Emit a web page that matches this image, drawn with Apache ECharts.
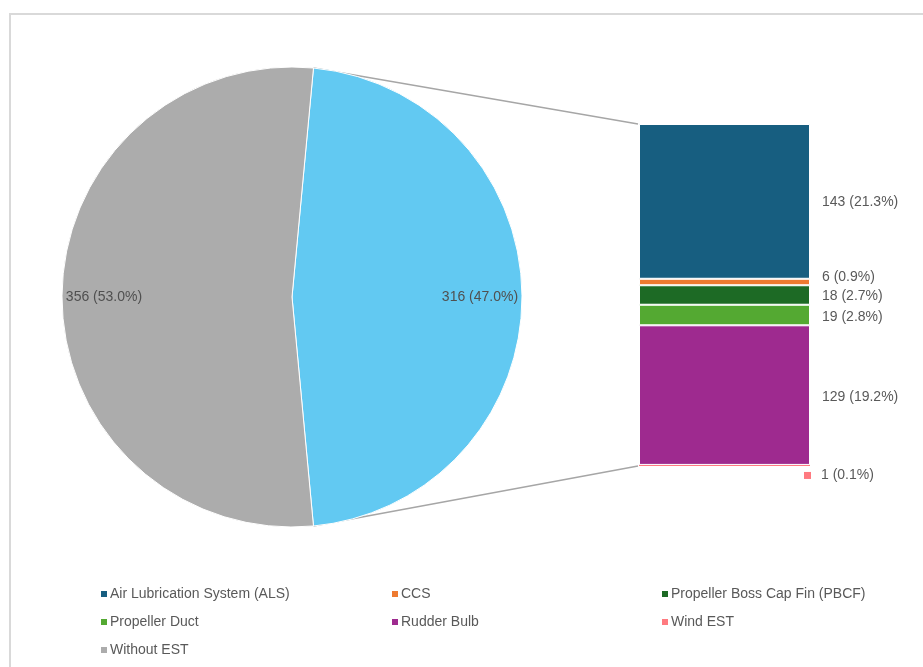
<!DOCTYPE html>
<html>
<head>
<meta charset="utf-8">
<script src="https://cdn.jsdelivr.net/npm/echarts@6/dist/echarts.min.js"></script>
<style>
  html, body { margin: 0; padding: 0; background: #fff; }
  #chart { width: 923px; height: 667px; }
</style>
</head>
<body>
<div id="chart"></div>
<script>
// Ships with / without energy saving technology (EST)
const pieNames = ['With EST', 'Without EST'];
const pieValues = [316, 356];

// Breakdown of the "With EST" slice
const estNames = [
  'Air Lubrication System (ALS)',
  'CCS',
  'Propeller Boss Cap Fin (PBCF)',
  'Propeller Duct',
  'Rudder Bulb',
  'Wind EST'
];
const estValues = [143, 6, 18, 19, 129, 1];

// Legend columns
const legendCol1 = ['Air Lubrication System (ALS)', 'Propeller Duct', 'Without EST'];
const legendCol2 = ['CCS', 'Rudder Bulb'];
const legendCol3 = ['Propeller Boss Cap Fin (PBCF)', 'Wind EST'];

// ---- styling ----
const FONT = "'Liberation Sans', Arial, sans-serif";
const pieColors = { 'With EST': '#62c9f2', 'Without EST': '#acacac' };
const estColors = ['#175e80', '#ee7a30', '#1d6a25', '#54a932', '#9e2a8f', '#ff7a80'];
const estLabelOffsets = [[0, 1], [0, -5], [0, 1], [0, 2], [0, 2], [-18, 10]];

const PIE_CX = 292, PIE_CY = 297, PIE_R = 230;
const GRID = { left: 639, top: 124, width: 171, height: 342 };

const total = pieValues.reduce((a, b) => a + b, 0);
const estTotal = estValues.reduce((a, b) => a + b, 0);
const pct = v => (v / total * 100).toFixed(1) + '%';
const estShare = pieValues[0] / total;
const startAngle = estShare * 360 / 2;

const chart = echarts.init(document.getElementById('chart'), null, { renderer: 'canvas' });

const pieData = pieNames.map((n, i) => ({ name: n, value: pieValues[i], itemStyle: { color: pieColors[n] } }));

const barSeries = estNames.map((n, i) => {
  const isLast = i === estNames.length - 1;
  return {
    type: 'bar',
    name: n,
    stack: 'est',
    barWidth: '100%',
    data: [estValues[i]],
    itemStyle: { color: estColors[i], borderColor: '#ffffff', borderWidth: isLast ? 0 : 1 },
    emphasis: { disabled: true },
    label: {
      show: true,
      position: 'right',
      distance: 12,
      offset: estLabelOffsets[i],
      fontFamily: FONT,
      fontSize: 14,
      color: '#595959',
      formatter: isLast
        ? '{sq|}{t|' + estValues[i] + ' (' + pct(estValues[i]) + ')}'
        : estValues[i] + ' (' + pct(estValues[i]) + ')',
      rich: {
        sq: { width: 7, height: 7, backgroundColor: estColors[i] },
        t: { fontFamily: FONT, fontSize: 14, color: '#595959', padding: [0, 0, 0, 10] }
      }
    }
  };
});

function legendColumn(left, names) {
  return {
    orient: 'vertical',
    left: left,
    top: 582,
    data: names,
    icon: 'rect',
    itemWidth: 6,
    itemHeight: 6,
    itemGap: 14,
    itemStyle: { borderWidth: 0 },
    textStyle: { fontFamily: FONT, fontSize: 14, color: '#595959', padding: [0, 0, 0, -2] },
    selectedMode: false
  };
}

chart.setOption({
  animation: false,
  backgroundColor: '#ffffff',
  legend: [
    legendColumn(96, legendCol1),
    legendColumn(387, legendCol2),
    legendColumn(657, legendCol3)
  ],
  grid: { left: GRID.left, top: GRID.top, width: GRID.width, height: GRID.height },
  xAxis: { type: 'category', data: ['EST'], show: false },
  yAxis: { type: 'value', min: 0, max: estTotal, inverse: true, show: false },
  series: [
    {
      type: 'pie',
      name: 'fleet',
      center: [PIE_CX, PIE_CY],
      radius: [0, PIE_R],
      startAngle: startAngle,
      clockwise: true,
      data: pieData,
      itemStyle: { borderColor: '#ffffff', borderWidth: 1 },
      label: { show: false },
      labelLine: { show: false },
      emphasis: { disabled: true },
      silent: true
    },
    {
      // ring used only to place the slice labels near the rim
      type: 'pie',
      name: 'fleetLabels',
      center: [PIE_CX, PIE_CY],
      radius: [140, PIE_R],
      startAngle: startAngle,
      clockwise: true,
      data: pieData.map(d => ({ name: d.name, value: d.value, itemStyle: { color: 'rgba(0,0,0,0)' } })),
      label: {
        show: true,
        position: 'inside',
        fontFamily: FONT,
        fontSize: 14,
        color: '#505050',
        formatter: p => p.value + ' (' + pct(p.value) + ')'
      },
      labelLine: { show: false },
      emphasis: { disabled: true },
      silent: true
    }
  ].concat(barSeries)
});

// Connector lines from the EST slice edges to the stacked bar corners
const halfAngle = startAngle * Math.PI / 180;
const pieTop = [PIE_CX + PIE_R * Math.cos(halfAngle), PIE_CY - PIE_R * Math.sin(halfAngle)];
const pieBottom = [PIE_CX + PIE_R * Math.cos(halfAngle), PIE_CY + PIE_R * Math.sin(halfAngle)];
const barTopY = chart.convertToPixel({ yAxisIndex: 0 }, 0);
const barBottomY = chart.convertToPixel({ yAxisIndex: 0 }, estTotal);

chart.setOption({
  graphic: [
    {
      type: 'rect',
      shape: { x: 10, y: 14, width: 1000, height: 1000 },
      style: { fill: 'none', stroke: '#d9d9d9', lineWidth: 2 },
      silent: true,
      z: 0
    },
    {
      type: 'line',
      shape: { x1: pieTop[0], y1: pieTop[1], x2: GRID.left - 1, y2: barTopY },
      style: { stroke: '#a6a6a6', lineWidth: 1.3 },
      silent: true
    },
    {
      type: 'line',
      shape: { x1: pieBottom[0], y1: pieBottom[1], x2: GRID.left - 1, y2: barBottomY },
      style: { stroke: '#a6a6a6', lineWidth: 1.3 },
      silent: true
    }
  ]
});
</script>
</body>
</html>
